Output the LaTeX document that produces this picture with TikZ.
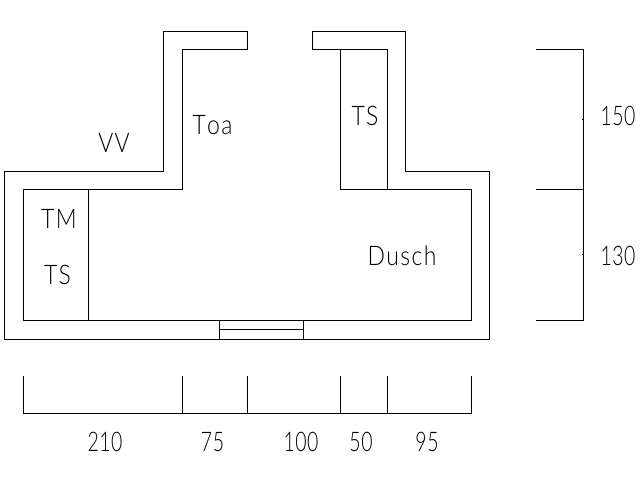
\documentclass[tikz,border=0pt]{standalone}
\usepackage{fontspec}
\newfontfamily\namefont[LetterSpace=6,Kerning=Off]{Lato Light}
\newfontfamily\sizefont[LetterSpace=3,Kerning=Off]{Lato Light}
\tikzset{
	wall/.style={line width=1pt, line cap=rect, line join=miter},
	label/.style={inner sep=0pt, anchor=base, xscale=0.85, font=\namefont\fontsize{27}{27}\selectfont},
	size/.style={inner sep=0pt, anchor=base, xscale=0.72, font=\sizefont\fontsize{27}{27}\selectfont},
}
\begin{document}
\begin{tikzpicture}[x=1pt, y=-1pt]
	\useasboundingbox (0, 0) rectangle (640, 480);
	% walls
	\draw [wall] (247.5, 31.5) -- (163.5, 31.5) -- (163.5, 171.5) -- (4.5, 171.5) -- (4.5, 339.5) -- (489.5, 339.5) -- (489.5, 171.5) -- (405.5, 171.5) -- (405.5, 31.5) -- (312.5, 31.5) -- (312.5, 49.5) -- (387.5, 49.5) -- (387.5, 189.5) -- (471.5, 189.5) -- (471.5, 320.5) -- (23.5, 320.5) -- (23.5, 189.5) -- (182.5, 189.5) -- (182.5, 49.5) -- (247.5, 49.5) -- cycle;
	\draw [wall] (340.5, 49.5) -- (340.5, 189.5) -- (387.5, 189.5);
	\draw [wall] (88.5, 189.5) -- (88.5, 320.5);
	% window
	\draw [wall] (219.5, 320.5) -- (219.5, 339.5);
	\draw [wall] (303.5, 320.5) -- (303.5, 339.5);
	\draw [wall] (219.5, 329.5) -- (303.5, 329.5);
	% right measures
	\coordinate (r1) at (536, 49.5);
	\coordinate (r2) at (583.5, 49.5);
	\coordinate (r3) at (536, 189.5);
	\coordinate (r4) at (583.5, 189.5);
	\coordinate (r5) at (536, 320.5);
	\coordinate (r6) at (583.5, 320.5);
	\draw [wall] (r1) -- (r2) -- (r4) -- (r6) -- (r5);
	\draw [wall] (r3) -- (r4);
	\draw (582, 119.5) -- (583.5, 119.5);
	\draw (582, 254.5) -- (583.5, 254.5);
	% bottom measures
	\coordinate (b0) at (23.5, 413.5);
	\coordinate (b1) at (182.5, 413.5);
	\coordinate (b2) at (247.5, 413.5);
	\coordinate (b3) at (340.5, 413.5);
	\coordinate (b4) at (387.5, 413.5);
	\coordinate (b5) at (471.5, 413.5);
	\draw [wall] (b0) -- (b5);
	\foreach \b in {b0, b1, b2, b3, b4, b5}
		\draw [wall] (\b) -- ++(0, -37);
	% texts
	\node [label] (vv) at (114, 152.7) {VV};
	\node [label] (toa) at (212.5, 134) {Toa};
	\node [label] (tm) at (59, 228) {TM};
	\node [label] (tsa) at (57.5, 284) {TS};
	\node [label] (tsb) at (365, 125) {TS};
	\node [label] (dusch) at (402, 265) {Dusch};
	\node [size] (h1) at (618, 125) {150};
	\node [size] (h2) at (618, 265) {130};
	\node [size] (w1) at (105, 451) {210};
	\node [size] (w2) at (212.5, 451) {75};
	\node [size] (w3) at (301, 451) {100};
	\node [size] (w4) at (361, 451) {50};
	\node [size] (w5) at (427, 451) {95};
\end{tikzpicture}
\end{document}
